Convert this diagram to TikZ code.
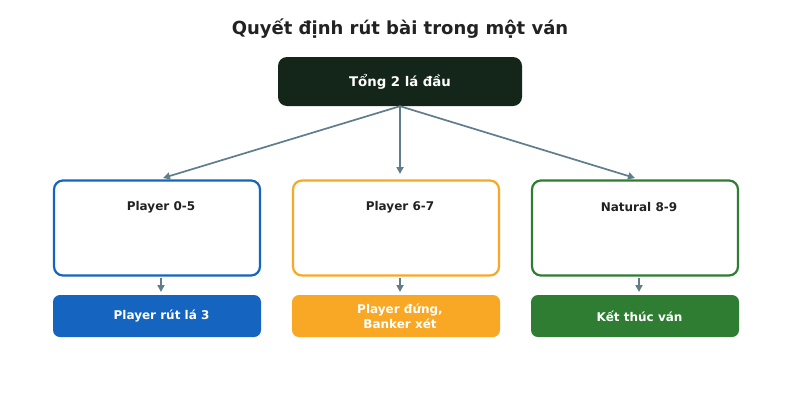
\documentclass[tikz,border=0pt]{standalone}
\usepackage{fontspec}
\setmainfont{DejaVu Sans}
\usetikzlibrary{arrows.meta,calc}
\definecolor{darkbox}{HTML}{14251A}
\definecolor{cblue}{HTML}{1565C0}
\definecolor{corange}{HTML}{F9A825}
\definecolor{cgreen}{HTML}{2E7D32}
\definecolor{arrowc}{HTML}{607D8B}
\definecolor{txt}{HTML}{222222}
\begin{document}
\begin{tikzpicture}[x=1pt,y=-1pt,
  midbox/.style={draw,line width=2.2pt,rounded corners=9pt,fill=white,minimum width=206pt,minimum height=95pt,inner sep=0pt},
  botbox/.style={rounded corners=7pt,minimum width=208pt,minimum height=42pt,inner sep=0pt},
  bottxt/.style={inner sep=0pt,text=white,font=\bfseries\fontsize{12}{15}\selectfont,align=center},
  lbl/.style={font=\bfseries\fontsize{12}{14}\selectfont,text=txt},
  conn/.style={draw=arrowc,line width=1.7pt,-{Triangle[length=7pt,width=7pt]}}]
\useasboundingbox (0,0) rectangle (800,400);
\node[font=\bfseries\fontsize{18}{21}\selectfont,text=txt] (title) at (400,29) {Quyết định rút bài trong một ván};
\node[fill=darkbox,rounded corners=9pt,minimum width=244pt,minimum height=49pt,inner sep=0pt,text=white,font=\bfseries\fontsize{13.3}{16}\selectfont] (top) at (400,81.5) {Tổng 2 lá đầu};
\node[midbox,draw=cblue] (m1) at (157,228) {};
\node[midbox,draw=corange] (m2) at (396,228) {};
\node[midbox,draw=cgreen] (m3) at (635,228) {};
\node[lbl] (l1) at (161,207) {Player 0-5};
\node[lbl] (l2) at (400,207) {Player 6-7};
\node[lbl] (l3) at (639,207) {Natural 8-9};
\node[botbox,fill=cblue] (b1) at (157,316) {};
\node[botbox,fill=corange] (b2) at (396,316) {};
\node[botbox,fill=cgreen] (b3) at (635,316) {};
\node[bottxt] (bt1) at (161.5,316) {Player rút lá 3};
\node[bottxt] (bt2) at (400,316) {Player đứng,\\Banker xét};
\node[bottxt] (bt3) at (639.5,316) {Kết thúc ván};
\coordinate (t1) at (163,178);
\coordinate (t2) at (400,174);
\coordinate (t3) at (635,178);
\draw[conn] (top.south) -- (t1);
\draw[conn] (top.south) -- (t2);
\draw[conn] (top.south) -- (t3);
\coordinate (s1) at (161,278);
\coordinate (s2) at (400,278);
\coordinate (s3) at (639,278);
\coordinate (e1) at (161,292);
\coordinate (e2) at (400,292);
\coordinate (e3) at (639,292);
\draw[conn] (s1) -- (e1);
\draw[conn] (s2) -- (e2);
\draw[conn] (s3) -- (e3);
\end{tikzpicture}
\end{document}
